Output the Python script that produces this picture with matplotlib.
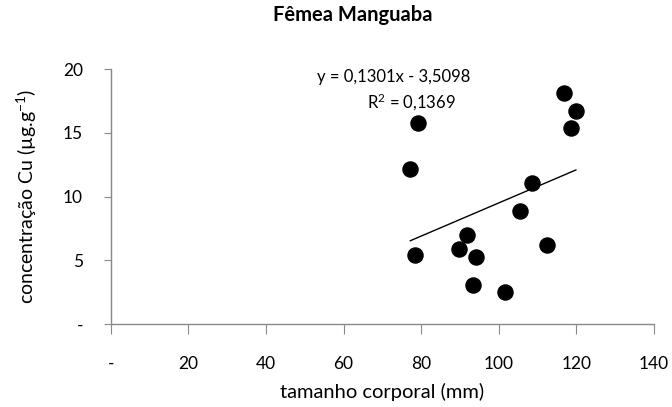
import matplotlib
matplotlib.use("Agg")
import matplotlib.pyplot as plt
import numpy as np

plt.rcParams['font.family'] = ['Lato', 'DejaVu Sans']
plt.rcParams['mathtext.fontset'] = 'custom'
plt.rcParams['mathtext.rm'] = 'Lato'
plt.rcParams['mathtext.it'] = 'Lato:italic'

# tamanho corporal (mm) vs concentracao Cu
tamanho = [116.9, 119.9, 118.7, 108.5, 79.3, 77.2, 78.4, 91.8, 89.8, 94.1,
           112.4, 93.4, 101.5, 105.4]
conc_cu = [18.14, 16.73, 15.40, 11.03, 15.74, 12.18, 5.41, 6.98, 5.88, 5.28,
           6.22, 3.03, 2.53, 8.89]

slope = 0.1301
intercept = -3.5098

xticks = [0, 20, 40, 60, 80, 100, 120, 140]
xtick_labels = ['-', '20', '40', '60', '80', '100', '120', '140']
yticks = [0, 5, 10, 15, 20]
ytick_labels = ['-', '5', '10', '15', '20']

fig = plt.figure(figsize=(6.72, 4.07), dpi=100)
ax = fig.add_axes([0.165, 0.204, 0.808, 0.626])

ax.scatter(tamanho, conc_cu, s=118, color='black', zorder=3)

xl = np.array([min(tamanho), max(tamanho)])
ax.plot(xl, slope * xl + intercept, color='black', lw=1.0)

ax.text(73, 19.4, 'y = 0,1301x - 3,5098', ha='center', va='center', fontsize=12)
ax.text(77.5, 17.4, 'R$^2$ = 0,1369', ha='center', va='center', fontsize=12)

ax.set_xlim(0, 140)
ax.set_ylim(0, 20)
ax.set_xticks(xticks)
ax.set_xticklabels(xtick_labels, fontsize=12.5)
ax.set_yticks(yticks)
ax.set_yticklabels(ytick_labels, fontsize=12.5)

for s in ['top', 'right']:
    ax.spines[s].set_visible(False)
for s in ['left', 'bottom']:
    ax.spines[s].set_color('#898989')
    ax.spines[s].set_linewidth(1.0)
ax.tick_params(axis='x', direction='out', length=7, color='#898989', pad=16)
ax.tick_params(axis='y', direction='out', length=5, color='#898989', pad=15)

ax.set_xlabel('tamanho corporal (mm)', fontsize=14.5, va='center')
ax.xaxis.set_label_coords(0.5, -0.267)
ax.set_ylabel('concentração Cu (µg.g$^{-1}$)', fontsize=14, va='center')
ax.yaxis.set_label_coords(-0.155, 0.5)
fig.text(0.525, 0.963, 'Fêmea Manguaba', ha='center', va='center',
         fontsize=14.5, fontweight='bold')

fig.savefig('out.png', dpi=100)
